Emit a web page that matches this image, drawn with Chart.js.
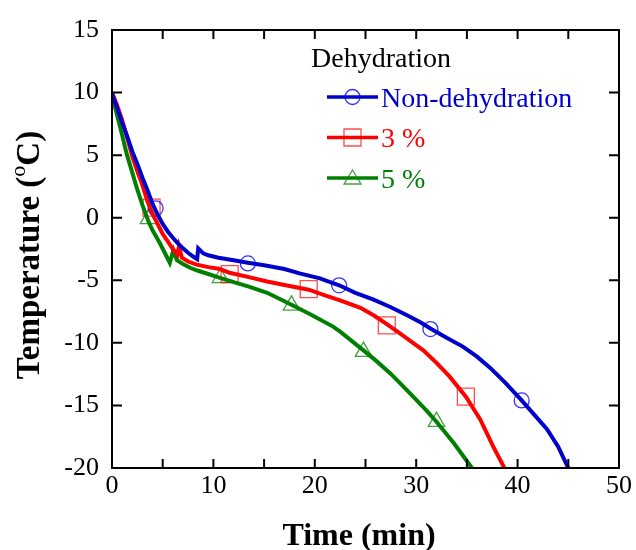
<!DOCTYPE html>
<html lang="en">
<head>
<meta charset="UTF-8">
<title>Temperature vs Time</title>
<script src="https://cdn.jsdelivr.net/npm/chart.js@4.4.0/dist/chart.umd.min.js"></script>
<style>
  html, body { margin: 0; padding: 0; background: #fff; }
</style>
</head>
<body>
<canvas id="cooling" width="636" height="550"></canvas>
<script>
// Non-dehydration curve
const timeNon = [0, 0.5, 1, 1.5, 2, 2.5, 3, 3.5, 4, 4.5, 5, 5.5, 6, 6.5, 7, 7.5, 8, 8.4, 8.5, 9, 9.5, 10.5, 12, 13.4, 15, 17, 18.5, 20.5, 22.4, 24, 25.8, 27.5, 29.1, 30.5, 31.4, 33, 34.6, 36, 37.3, 38.8, 40.4, 41.7, 42.9, 44, 45];
const tempNon = [9.9, 8.8, 7.6, 6.5, 5.3, 4.3, 3.2, 2.2, 1.1, 0.25, -0.5, -1.1, -1.6, -2.05, -2.45, -2.8, -3.1, -3.3, -2.45, -2.85, -3.0, -3.2, -3.4, -3.6, -3.8, -4.1, -4.45, -4.85, -5.4, -6.0, -6.55, -7.15, -7.8, -8.4, -8.85, -9.6, -10.3, -11.1, -12.0, -13.2, -14.6, -15.8, -16.9, -18.3, -20];

// 3 % dehydration curve
const time3 = [0, 0.5, 1, 1.5, 2, 2.5, 3, 3.5, 4, 4.5, 5, 5.5, 6, 6.45, 6.6, 6.9, 7.5, 8.35, 9.5, 10.65, 11.6, 13.5, 15.3, 17.5, 19.4, 21, 22.5, 24.5, 25.8, 27.1, 28.5, 30.7, 32, 33.3, 34.9, 36.3, 37.6, 38.7];
const temp3 = [10, 9.0, 7.8, 6.4, 4.9, 3.7, 2.6, 1.3, 0.3, -0.5, -1.3, -1.9, -2.5, -2.95, -2.3, -3.2, -3.5, -3.75, -3.95, -4.1, -4.4, -4.75, -5.1, -5.45, -5.75, -6.2, -6.6, -7.2, -7.8, -8.5, -9.3, -10.6, -11.6, -12.7, -14.3, -16.1, -18.3, -20];

// 5 % dehydration curve
const time5 = [0, 0.5, 1, 1.45, 2, 2.4, 3, 3.6, 4, 4.7, 5.2, 5.7, 6.05, 6.4, 7, 7.7, 8.35, 9.5, 10.65, 12, 13.5, 15.3, 17.7, 19.5, 21.8, 22.5, 24.8, 26, 27.4, 28.5, 29.7, 31, 32, 33.7, 35.5];
const temp5 = [9.8, 8.2, 6.6, 5.1, 3.6, 2.5, 1.0, -0.3, -1.0, -2.0, -2.8, -3.6, -2.6, -3.4, -3.7, -4.0, -4.2, -4.5, -4.8, -5.15, -5.5, -6.0, -6.95, -7.7, -8.7, -9.1, -10.6, -11.4, -12.4, -13.3, -14.3, -15.4, -16.3, -18.0, -20];

// marker symbols along the curves
const markTimeNon = [4.3, 13.4, 22.4, 31.4, 40.4];
const markTempNon = [0.75, -3.65, -5.4, -8.9, -14.6];
const markTime3 = [3.9, 11.6, 19.4, 27.1, 34.9];
const markTemp3 = [0.8, -4.5, -5.7, -8.6, -14.3];
const markTime5 = [3.6, 10.7, 17.7, 24.8, 32.0];
const markTemp5 = [-0.1, -4.8, -7.0, -10.7, -16.3];

const seriesNames = ['Non-dehydration', '3 %', '5 %'];
const legendTitle = 'Dehydration';
const xLabels = [0, 10, 20, 30, 40, 50];
const xMinor = [0, 5, 10, 15, 20, 25, 30, 35, 40, 45, 50];
const yLabels = [-20, -15, -10, -5, 0, 5, 10, 15];

const SERIF = "'Liberation Serif', 'Times New Roman', serif";
const colors = ['#0000cc', '#ff0000', '#008000'];
const markColors = ['rgba(0,0,255,0.8)', 'rgba(255,0,0,0.7)', 'rgba(0,128,0,0.75)'];
const styles = ['circle', 'rect', 'triangle'];
const radii = [7.5, 12, 9.5];

function pts(xs, ys) {
    return xs.map((x, i) => ({ x: x, y: ys[i] }));
}

const curves = [[timeNon, tempNon], [time3, temp3], [time5, temp5]];
const marks = [[markTimeNon, markTempNon], [markTime3, markTemp3], [markTime5, markTemp5]];

const datasets = [];
curves.forEach((c, i) => {
    datasets.push({
        label: seriesNames[i],
        data: pts(c[0], c[1]),
        borderColor: colors[i],
        borderWidth: 4,
        pointRadius: 0,
        fill: false,
        tension: 0
    });
});
marks.forEach((m, i) => {
    datasets.push({
        label: seriesNames[i] + ' marker',
        data: pts(m[0], m[1]),
        showLine: false,
        pointStyle: styles[i],
        pointRadius: radii[i],
        pointBorderColor: markColors[i],
        pointBackgroundColor: 'rgba(0,0,0,0)',
        pointBorderWidth: 1.3
    });
});

// frame with inward ticks, axis titles and the legend box
const framePlugin = {
    id: 'frame',
    afterDraw(chart) {
        const ctx = chart.ctx;
        const a = chart.chartArea;
        const xs = chart.scales.x, ys = chart.scales.y;
        ctx.save();
        ctx.strokeStyle = '#000';
        ctx.lineWidth = 2;
        ctx.strokeRect(a.left, a.top, a.right - a.left, a.bottom - a.top);
        ctx.beginPath();
        xMinor.forEach(v => {
            const px = xs.getPixelForValue(v);
            ctx.moveTo(px, a.bottom); ctx.lineTo(px, a.bottom - 9);
            ctx.moveTo(px, a.top); ctx.lineTo(px, a.top + 9);
        });
        yLabels.forEach(v => {
            const py = ys.getPixelForValue(v);
            ctx.moveTo(a.left, py); ctx.lineTo(a.left + 10, py);
            ctx.moveTo(a.right, py); ctx.lineTo(a.right - 10, py);
        });
        ctx.stroke();

        // x title
        ctx.fillStyle = '#000';
        ctx.font = 'bold 32px ' + SERIF;
        ctx.textAlign = 'center';
        ctx.textBaseline = 'alphabetic';
        ctx.fillText('Time (min)', 359, 545);

        // y title with superscript o
        ctx.translate(39, 255);
        ctx.rotate(-Math.PI / 2);
        ctx.textAlign = 'left';
        const p1 = 'Temperature (', p2 = 'o', p3 = 'C)';
        ctx.font = 'bold 33px ' + SERIF;
        const w1 = ctx.measureText(p1).width, w3 = ctx.measureText(p3).width;
        ctx.font = '22px ' + SERIF;
        const w2 = ctx.measureText(p2).width;
        let x0 = -(w1 + w2 + w3) / 2;
        ctx.font = 'bold 33px ' + SERIF;
        ctx.fillText(p1, x0, 0);
        x0 += w1;
        ctx.font = '22px ' + SERIF;
        ctx.fillText(p2, x0, -14);
        x0 += w2;
        ctx.font = 'bold 33px ' + SERIF;
        ctx.fillText(p3, x0, 0);
        ctx.restore();

        // legend
        ctx.save();
        ctx.font = '28px ' + SERIF;
        ctx.textAlign = 'left';
        ctx.textBaseline = 'alphabetic';
        ctx.fillStyle = '#000';
        ctx.fillText(legendTitle, 311, 67);
        const rows = [97, 137.5, 178];
        rows.forEach((ry, i) => {
            ctx.strokeStyle = colors[i];
            ctx.lineWidth = 3.5;
            ctx.beginPath();
            ctx.moveTo(327, ry); ctx.lineTo(378, ry);
            ctx.stroke();
            ctx.strokeStyle = markColors[i];
            ctx.lineWidth = 1.3;
            ctx.beginPath();
            const cx = 352.5;
            if (styles[i] === 'circle') {
                ctx.arc(cx, ry, 7.5, 0, Math.PI * 2);
            } else if (styles[i] === 'rect') {
                ctx.rect(cx - 8.5, ry - 8.5, 17, 17);
            } else {
                ctx.moveTo(cx, ry - 8);
                ctx.lineTo(cx + 8.5, ry + 6);
                ctx.lineTo(cx - 8.5, ry + 6);
                ctx.closePath();
            }
            ctx.stroke();
            ctx.fillStyle = colors[i];
            ctx.fillText(seriesNames[i], 381, ry + 9.5);
        });
        ctx.restore();
    }
};

new Chart(document.getElementById('cooling').getContext('2d'), {
    type: 'line',
    data: { datasets: datasets },
    options: {
        responsive: false,
        animation: false,
        layout: { padding: { top: 30, right: 17, left: 0, bottom: 0 } },
        plugins: {
            legend: { display: false },
            tooltip: { enabled: false }
        },
        scales: {
            x: {
                type: 'linear',
                min: 0,
                max: 50,
                grid: { display: false, drawTicks: false },
                border: { display: false },
                ticks: {
                    color: '#000',
                    font: { family: SERIF, size: 26 },
                    padding: 3,
                    maxRotation: 0
                },
                afterBuildTicks: s => { s.ticks = xLabels.map(v => ({ value: v })); },
                afterFit: s => { s.height = 82; }
            },
            y: {
                min: -20,
                max: 15,
                grid: { display: false, drawTicks: false },
                border: { display: false },
                ticks: {
                    color: '#000',
                    font: { family: SERIF, size: 26 },
                    padding: 13
                },
                afterBuildTicks: s => { s.ticks = yLabels.map(v => ({ value: v })); },
                afterFit: s => { s.width = 112; }
            }
        }
    },
    plugins: [framePlugin]
});
</script>
</body>
</html>
